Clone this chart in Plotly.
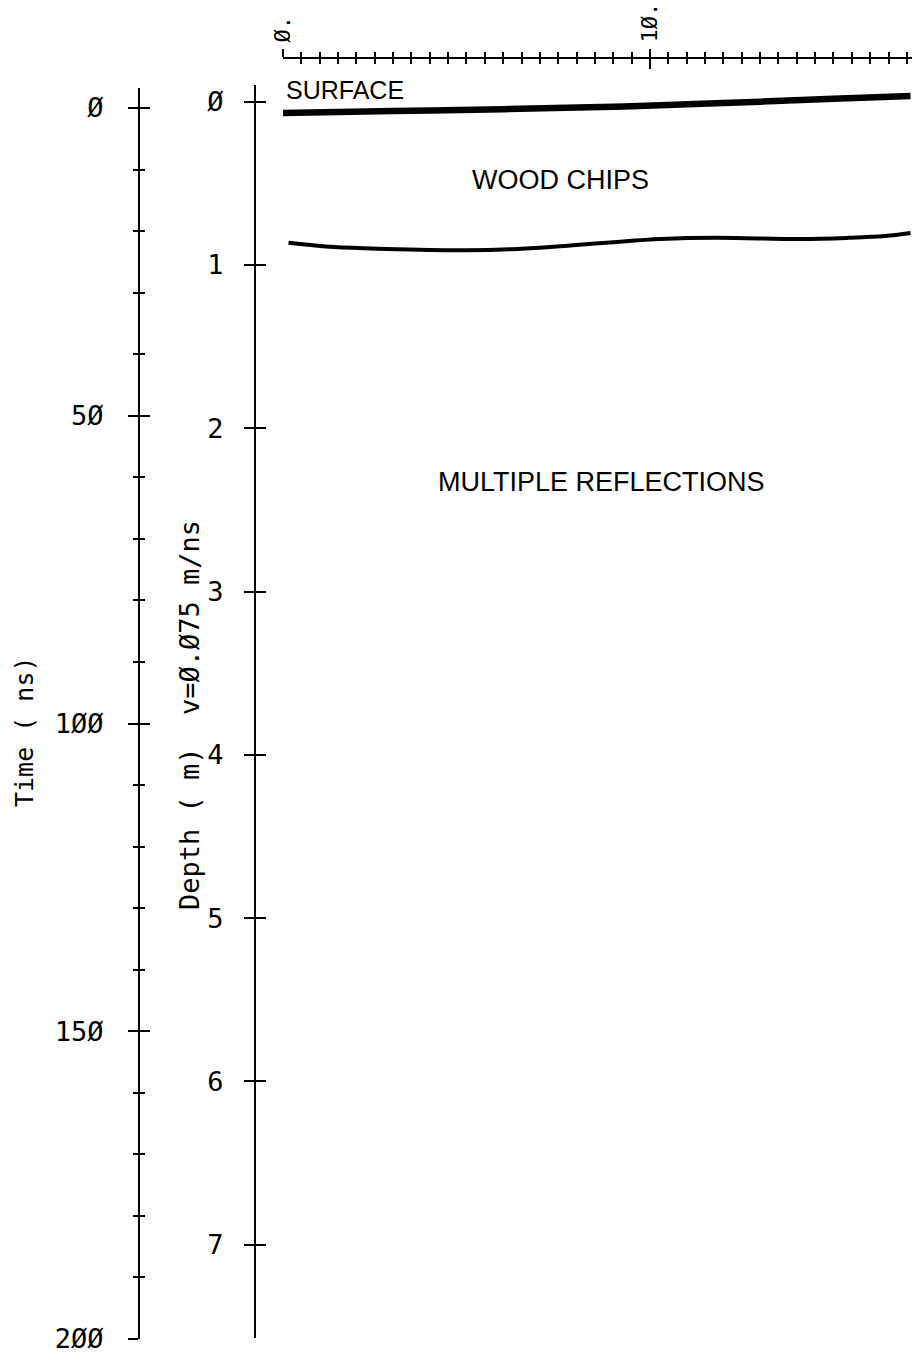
import plotly.graph_objects as go

# Reflector picks: horizontal distance (m) vs two-way travel time (ns)
surface_distance = [0.0, 3.0, 6.0, 9.0, 12.0, 15.0, 17.1]
surface_time = [0.8, 0.5, 0.2, -0.2, -0.8, -1.5, -1.95]

chips_distance = [0.15, 1.4, 2.8, 5.0, 6.4, 7.9, 9.0, 10.3, 11.8, 14.1, 15.4, 16.4, 17.1]
chips_time = [21.9, 22.6, 22.9, 23.1, 22.9, 22.3, 21.8, 21.3, 21.1, 21.3, 21.1, 20.8, 20.3]

# Axis ticks and their plotter-style labels
distance_ticks = [0, 10]
distance_labels = ["Ø.", "1Ø."]
time_ticks = [0, 50, 100, 150, 200]
time_labels = ["Ø", "5Ø", "1ØØ", "15Ø", "2ØØ"]
depth_ticks = [0, 1, 2, 3, 4, 5, 6, 7]
depth_labels = ["Ø", "1", "2", "3", "4", "5", "6", "7"]

W, H = 912, 1357
PLOT_FONT = "DejaVu Sans Mono"
LABEL_FONT = "Liberation Sans, Arial, sans-serif"


def px_x(x):
    return x / W


def px_y(y):
    return 1 - y / H


fig = go.Figure()

fig.add_trace(go.Scatter(x=surface_distance, y=surface_time, mode="lines",
                         line=dict(color="black", width=6.5, shape="spline"),
                         xaxis="x", yaxis="y", hoverinfo="skip"))
fig.add_trace(go.Scatter(x=chips_distance, y=chips_time, mode="lines",
                         line=dict(color="black", width=4, shape="spline"),
                         xaxis="x", yaxis="y", hoverinfo="skip"))

# empty traces so every auxiliary axis gets a subplot
for xa, ya in [("x2", "y"), ("x", "y2"), ("x", "y3"), ("x", "y4")]:
    fig.add_trace(go.Scatter(x=[None], y=[None], mode="lines", xaxis=xa, yaxis=ya,
                             hoverinfo="skip", showlegend=False))

x_range = [0, 17.14]
time_range = [200, -3.25]
time_domain = [px_y(1339), px_y(88)]
depth_range = [7.571, -0.102]
depth_domain = [px_y(1338), px_y(85)]

common = dict(showgrid=False, zeroline=False, color="black", tickcolor="black",
              automargin=False)

fig.update_layout(
    template="none",
    width=W, height=H,
    margin=dict(l=0, r=0, t=0, b=0, pad=0),
    paper_bgcolor="white", plot_bgcolor="rgba(0,0,0,0)",
    showlegend=False,
    xaxis=dict(domain=[px_x(283), 1], range=x_range, side="top", anchor="free",
               position=px_y(58), showline=True, linecolor="black", linewidth=2,
               ticks="outside", ticklen=8, tickwidth=2,
               tickmode="array", tickvals=distance_ticks, ticktext=distance_labels,
               tickangle=-90, tickfont=dict(family=PLOT_FONT, size=22, color="black"),
               ticklabelstandoff=2,
               minor=dict(tickmode="linear", tick0=0, dtick=0.5, ticks="outside",
                          ticklen=5, tickwidth=1.5, tickcolor="black", showgrid=False),
               **common),
    xaxis2=dict(overlaying="x", range=x_range, side="top", anchor="free",
                position=px_y(58), showline=False, showticklabels=False,
                ticks="inside", ticklen=10, tickwidth=2,
                tickmode="array", tickvals=distance_ticks,
                minor=dict(tickmode="linear", tick0=0, dtick=0.5, ticks="inside",
                           ticklen=5, tickwidth=1.5, tickcolor="black", showgrid=False),
                **common),
    yaxis=dict(domain=time_domain, range=time_range, anchor="free", position=px_x(139),
               side="left", showline=True, linecolor="black", linewidth=2,
               ticks="outside", ticklen=10, tickwidth=2,
               tickmode="array", tickvals=time_ticks, ticktext=time_labels,
               tickfont=dict(family=PLOT_FONT, size=27, color="black"),
               ticklabelstandoff=19,
               minor=dict(tickmode="linear", tick0=0, dtick=10, ticks="outside",
                          ticklen=5, tickwidth=1.5, tickcolor="black", showgrid=False),
               **common),
    yaxis2=dict(overlaying="y", range=time_range, anchor="free", position=px_x(139),
                side="left", showline=False, showticklabels=False,
                ticks="inside", ticklen=10, tickwidth=2,
                tickmode="array", tickvals=time_ticks,
                minor=dict(tickmode="linear", tick0=0, dtick=10, ticks="inside",
                           ticklen=5, tickwidth=1.5, tickcolor="black", showgrid=False),
                **common),
    yaxis3=dict(domain=depth_domain, range=depth_range, anchor="free", position=px_x(255),
                side="left", showline=True, linecolor="black", linewidth=2,
                ticks="outside", ticklen=10, tickwidth=2,
                tickmode="array", tickvals=depth_ticks, ticktext=depth_labels,
                tickfont=dict(family=PLOT_FONT, size=27, color="black"),
                ticklabelstandoff=15,
                **common),
    yaxis4=dict(overlaying="y3", range=depth_range, anchor="free", position=px_x(255),
                side="left", showline=False, showticklabels=False,
                ticks="inside", ticklen=10, tickwidth=2,
                tickmode="array", tickvals=depth_ticks,
                **common),
)

annotations = [
    dict(text="SURFACE", x=px_x(284), y=px_y(90), xanchor="left", yanchor="middle",
         font=dict(family=LABEL_FONT, size=25, color="black")),
    dict(text="WOOD CHIPS", x=px_x(560), y=px_y(180), xanchor="center", yanchor="middle",
         font=dict(family=LABEL_FONT, size=27, color="black")),
    dict(text="MULTIPLE REFLECTIONS", x=px_x(601), y=px_y(482), xanchor="center",
         yanchor="middle", font=dict(family=LABEL_FONT, size=27, color="black")),
    dict(text="Time ( ns)", x=px_x(24), y=px_y(732), xanchor="center", yanchor="middle",
         textangle=-90, font=dict(family=PLOT_FONT, size=25, color="black")),
    dict(text="Depth ( m)  v=Ø.Ø75 m/ns", x=px_x(189), y=px_y(715), xanchor="center",
         yanchor="middle", textangle=-90, font=dict(family=PLOT_FONT, size=27, color="black")),
]
for a in annotations:
    a.update(xref="paper", yref="paper", showarrow=False)
fig.update_layout(annotations=annotations)

# page without the default body margin so the figure fills the window exactly
fig.write_html("out.html",
               post_script="document.body.style.margin='0';"
                           "document.body.style.overflow='hidden';")
